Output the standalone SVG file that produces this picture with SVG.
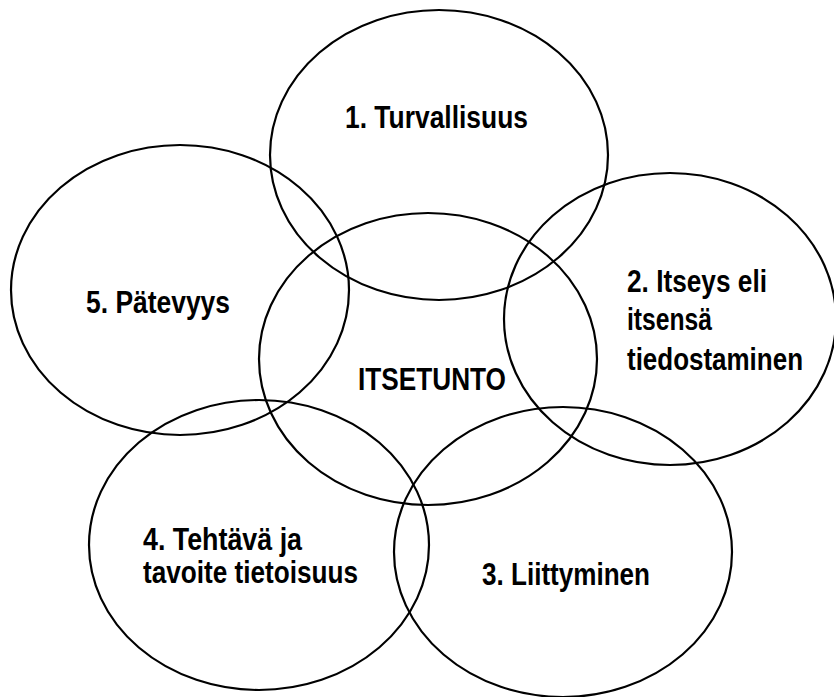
<svg xmlns="http://www.w3.org/2000/svg" width="834" height="697" viewBox="0 0 834 697">
<style>
.c{fill:none;stroke:#000;stroke-width:2.2}
.t{font-family:"Liberation Sans",Arial,sans-serif;font-weight:bold;font-size:31px;fill:#000}
</style>
<rect x="0" y="0" width="834" height="697" fill="#fff"/>
<g id="n1">
<ellipse class="c" cx="439" cy="155" rx="169" ry="145"/>
<text class="t" x="345" y="128" textLength="183" lengthAdjust="spacingAndGlyphs">1. Turvallisuus</text>
</g>
<g id="n5">
<ellipse class="c" cx="180" cy="290" rx="169" ry="145"/>
<text class="t" x="86" y="313" textLength="144" lengthAdjust="spacingAndGlyphs">5. Pätevyys</text>
</g>
<g id="n0">
<ellipse class="c" cx="428" cy="359" rx="169" ry="146"/>
<text class="t" x="358" y="390" textLength="148" lengthAdjust="spacingAndGlyphs">ITSETUNTO</text>
</g>
<g id="n2">
<ellipse class="c" cx="670" cy="319" rx="166" ry="146"/>
<text class="t" x="627" y="292" textLength="140" lengthAdjust="spacingAndGlyphs">2. Itseys eli</text>
<text class="t" x="627" y="330" textLength="85" lengthAdjust="spacingAndGlyphs">itsensä</text>
<text class="t" x="627" y="370" textLength="176" lengthAdjust="spacingAndGlyphs">tiedostaminen</text>
</g>
<g id="n4">
<ellipse class="c" cx="259" cy="545" rx="170" ry="145"/>
<text class="t" x="143" y="550" textLength="159" lengthAdjust="spacingAndGlyphs">4. Tehtävä ja</text>
<text class="t" x="143" y="583" textLength="215" lengthAdjust="spacingAndGlyphs">tavoite tietoisuus</text>
</g>
<g id="n3">
<ellipse class="c" cx="563" cy="552" rx="169" ry="145"/>
<text class="t" x="482" y="585" textLength="168" lengthAdjust="spacingAndGlyphs">3. Liittyminen</text>
</g>
<g id="connectors"/>
</svg>
